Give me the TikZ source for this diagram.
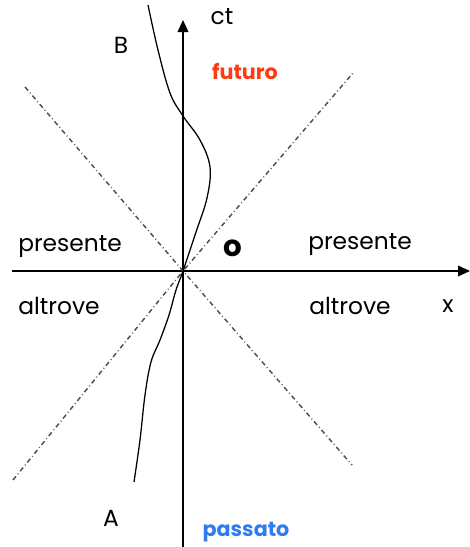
\documentclass[tikz,border=0pt]{standalone}
\usepackage{fontspec}
\setmainfont{Poppins}
\usetikzlibrary{arrows.meta}
\definecolor{futcol}{HTML}{FF3A10}
\definecolor{pascol}{HTML}{2F7BEF}
\definecolor{conecol}{HTML}{505050}
\tikzset{
  axis/.style={line width=1.2pt, -{Triangle[length=9pt,width=8pt]}},
  cone/.style={conecol, line width=1.1pt, dash pattern=on 3.5pt off 2.2pt on 0.6pt off 2.2pt},
  world/.style={line width=0.95pt},
  lbl/.style={font=\fontsize{17.5}{20}\selectfont, inner sep=0pt},
  blbl/.style={font=\fontsize{15.5}{18}\selectfont\bfseries, inner sep=0pt}
}
\begin{document}
\begin{tikzpicture}[x=0.75pt,y=-0.75pt]
\useasboundingbox (0,0) rectangle (470,547);
% axes
\coordinate (O) at (183,271);
\coordinate (xs) at (12,271);
\coordinate (xe) at (470,271);
\coordinate (ys) at (183,547);
\coordinate (ye) at (183,20);
\draw[axis] (xs) -- (xe);
\draw[axis] (ys) -- (ye);
% light cone
\coordinate (ul) at (25,87);
\coordinate (ur) at (353,73);
\coordinate (ll) at (13,480);
\coordinate (lr) at (352,465);
\draw[cone] (ul) -- (O) -- (lr);
\draw[cone] (ll) -- (O) -- (ur);
% world line
\coordinate (wtop) at (148,5);
\coordinate (wbot) at (134,482);
\draw[world] plot[smooth, tension=0.6] coordinates {(wtop) (158,50) (170,93) (183,116) (200,140) (210,167) (207,198) (196,232) (183,271) (176,290) (169,315) (160,340) (151,362) (145,395) (140,440) (wbot)};
% labels
\node[lbl] (ct) at (222,17) {ct};
\node[lbl] (B) at (121,45) {B};
\node[blbl, text=futcol] (fut) at (245,71) {futuro};
\node[lbl] (pl) at (70,247) {presente};
\node[lbl] (pr) at (360,245) {presente};
\node[lbl] (al) at (59,306) {altrove};
\node[lbl] (ar) at (350,306) {altrove};
\node[lbl] (x) at (448,306) {x};
\node[font=\fontsize{22}{24}\selectfont\bfseries, inner sep=0pt] (o) at (233,248) {o};
\node[lbl] (A) at (111,518) {A};
\node[blbl, text=pascol] (pas) at (246,532) {passato};
\end{tikzpicture}
\end{document}
